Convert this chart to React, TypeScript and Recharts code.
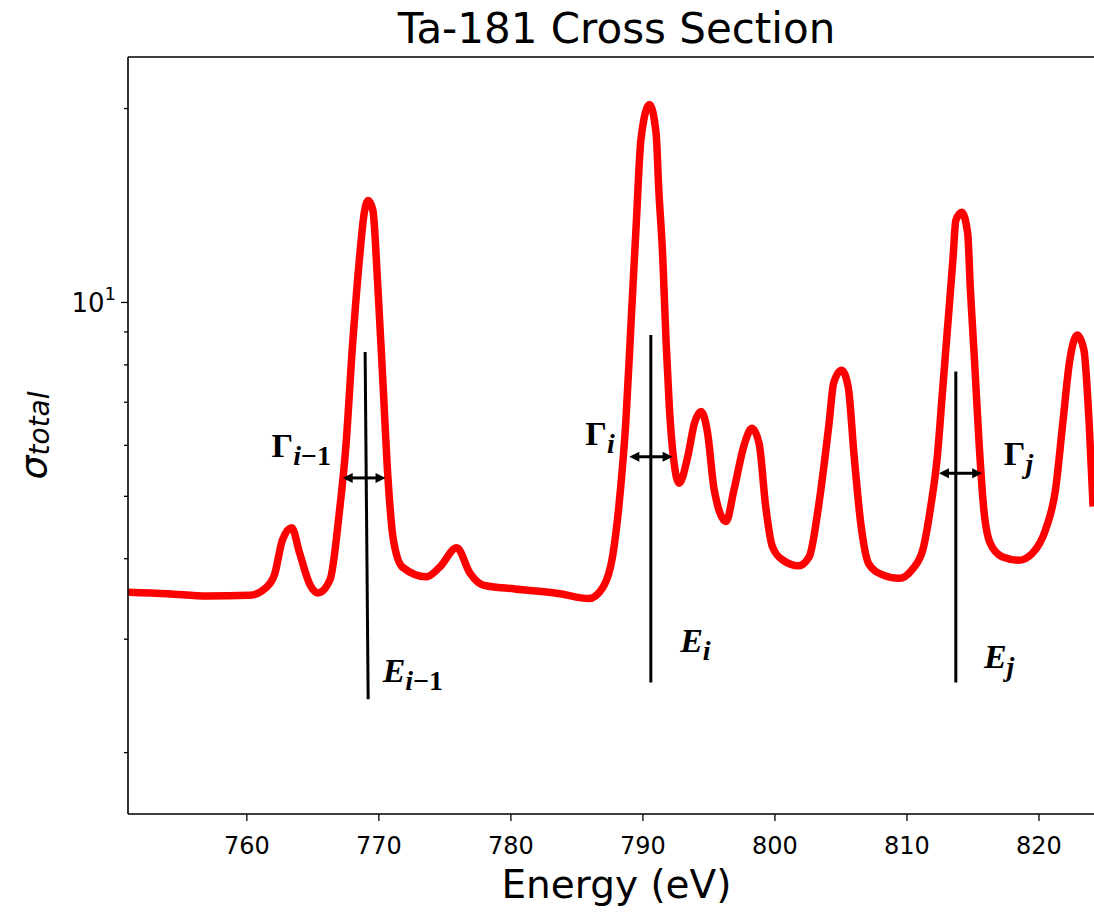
import React from "react";
import {
  LineChart,
  Line,
  XAxis,
  YAxis,
  ReferenceLine,
  ReferenceDot,
} from "recharts";

// cross section (energy in eV, sigma on a log axis)
const energy = [
  751.0, 754.0, 757.0, 760.2, 761.4, 762.1, 762.7, 763.4, 764.0, 764.8, 765.4,
  766.3, 767.0, 767.5, 768.0, 768.5, 768.9, 769.2, 769.55, 769.9, 770.3, 770.7,
  771.1, 771.8, 773.6, 774.6, 775.9, 776.9, 777.9, 780.3, 783.7, 785.9, 787.0,
  787.7, 788.3, 788.7, 789.1, 789.5, 789.85, 790.5, 791.0, 791.2, 791.5, 791.75,
  792.0, 792.4, 792.75, 793.4, 793.9, 794.4, 794.9, 795.4, 796.3, 796.9, 797.7,
  798.25, 798.8, 799.3, 799.8, 800.6, 801.8, 802.6, 803.3, 804.1, 804.45, 805.05,
  805.55, 806.0, 806.5, 807.1, 808.1, 809.4, 810.4, 811.2, 811.8, 812.3, 812.7,
  813.1, 813.5, 813.7, 814.15, 814.6, 814.8, 815.1, 815.45, 815.8, 816.3, 817.2,
  818.5, 819.5, 820.5, 821.25, 821.8, 822.3, 822.9, 823.4, 823.8, 824.1,
];
const sigma = [
  3.55, 3.53, 3.5, 3.51, 3.6, 3.78, 4.28, 4.47, 4.08, 3.64, 3.54,
  3.71, 4.71, 5.97, 8.54, 11.5, 13.8, 14.4, 13.9, 10.8, 7.58, 5.3,
  4.28, 3.88, 3.75, 3.88, 4.16, 3.8, 3.64, 3.59, 3.53, 3.47, 3.62,
  4.03, 5.12, 6.49, 9.28, 13.3, 17.9, 20.3, 18.3, 15.0, 11.8, 8.74,
  6.89, 5.56, 5.24, 5.77, 6.49, 6.77, 6.27, 5.12, 4.57, 5.12, 6.04,
  6.38, 6.04, 4.82, 4.18, 3.98, 3.9, 4.03, 4.82, 6.49, 7.5, 7.85,
  7.39, 5.77, 4.54, 3.93, 3.78, 3.73, 3.85, 4.13, 4.82, 5.77, 7.31,
  9.28, 11.8, 13.4, 13.8, 12.8, 10.5, 8.24, 6.11, 4.82, 4.23, 4.03,
  3.98, 4.08, 4.44, 5.12, 6.49, 8.05, 8.9, 8.44, 6.49, 4.82,
];

const xDomain = [751, 825];
const yDomain = [1.606, 24.05];
const xTicks = [760, 770, 780, 790, 800, 810, 820];
const yTicks = [2, 3, 4, 5, 6, 7, 8, 9, 10, 20];

// resonance annotations
const resonanceNames = ["i\u22121", "i", "j"];
const markerTopE = [768.96, 790.6, 813.7];
const markerBottomE = [769.19, 790.6, 813.7];
const markerTopSigma = [8.38, 8.9, 7.81];
const markerBottomSigma = [2.42, 2.57, 2.57];
const widthLeftE = [767.26, 788.97, 812.42];
const widthRightE = [770.51, 792.25, 815.7];
const widthSigma = [5.34, 5.76, 5.43];
const gammaLabelE = [761.87, 785.64, 817.34];
const gammaLabelSigma = [5.76, 6.01, 5.59];
const energyLabelE = [770.29, 792.82, 815.83];
const energyLabelSigma = [2.57, 2.87, 2.71];

const data = energy.map((e, i) => ({ E: e, sigma: sigma[i] }));

const SANS = "DejaVu Sans";
const SERIF = "Liberation Serif";

const XTick = (props: any) => {
  const { x, y, payload } = props;
  return (
    <g>
      <line x1={x} x2={x} y1={y} y2={y + 7} stroke="#000" strokeWidth={1.3} />
      <text x={x} y={y + 40} textAnchor="middle" fontFamily={SANS} fontSize={24} fill="#000">
        {payload.value}
      </text>
    </g>
  );
};

const YTick = (props: any) => {
  const { x, y, payload } = props;
  const major = payload.value === 10;
  return (
    <g>
      <line x1={x} x2={x - (major ? 7 : 4)} y1={y} y2={y} stroke="#000" strokeWidth={1.3} />
      {major && (
        <text x={x - 12} y={y + 10} textAnchor="end" fontFamily={SANS} fontSize={26} fill="#000">
          10
          <tspan dy={-12} fontSize={18}>
            1
          </tspan>
        </text>
      )}
    </g>
  );
};

const Arrow = (props: any) => {
  const { x1, y1, x2, y2 } = props;
  const h = 10;
  const w = 5;
  return (
    <g>
      <line x1={x1 + h - 2} y1={y1} x2={x2 - h + 2} y2={y2} stroke="#000" strokeWidth={3} />
      <polygon points={`${x1},${y1} ${x1 + h},${y1 - w} ${x1 + h},${y1 + w}`} fill="#000" />
      <polygon points={`${x2},${y2} ${x2 - h},${y2 - w} ${x2 - h},${y2 + w}`} fill="#000" />
    </g>
  );
};

const Sub = ({ s }: { s: string }) => (
  <tspan fontSize={28} dy={8}>
    <tspan fontStyle="italic">{s.charAt(0)}</tspan>
    {s.slice(1)}
  </tspan>
);

const gammaLabel = (name: string) => (props: any) =>
  (
    <text x={props.cx} y={props.cy} fontFamily={SERIF} fontWeight="bold" fontSize={34} fill="#000">
      {"\u0393"}
      <Sub s={name} />
    </text>
  );

const energyLabel = (name: string) => (props: any) =>
  (
    <text x={props.cx} y={props.cy} fontFamily={SERIF} fontWeight="bold" fontSize={34} fill="#000">
      <tspan fontStyle="italic">E</tspan>
      <Sub s={name} />
    </text>
  );

const Title = (props: any) => (
  <text x={props.cx} y={props.cy - 14} textAnchor="middle" fontFamily={SANS} fontSize={42} fill="#000">
    Ta-181 Cross Section
  </text>
);

const XLabel = (props: any) => {
  const vb = props.viewBox ?? { x: 128, y: 814, width: 977 };
  return (
    <text x={vb.x + vb.width / 2} y={vb.y + 84} textAnchor="middle" fontFamily={SANS} fontSize={39} fill="#000">
      Energy (eV)
    </text>
  );
};

const YLabel = (props: any) => {
  const vb = props.viewBox ?? { y: 57, height: 757 };
  const cy = vb.y + vb.height / 2;
  return (
    <text
      transform={`translate(46,${cy}) rotate(-90)`}
      textAnchor="middle"
      fontFamily={SANS}
      fontStyle="italic"
      fill="#000"
    >
      <tspan fontSize={38}>{"\u03c3"}</tspan>
      <tspan fontSize={28} dy={3}>
        total
      </tspan>
    </text>
  );
};

export default function App() {
  return (
    <div
      style={{
        position: "absolute",
        left: 0,
        top: 0,
        width: 1094,
        height: 914,
        overflow: "hidden",
        background: "#fff",
      }}
    >
      <LineChart width={1110} height={914} data={data} margin={{ top: 57, right: 5, bottom: 0, left: 0 }}>
        <XAxis
          dataKey="E"
          type="number"
          domain={xDomain}
          allowDataOverflow
          ticks={xTicks}
          interval={0}
          height={100}
          tickSize={0}
          tickMargin={0}
          tickLine={false}
          tick={<XTick />}
          axisLine={{ stroke: "#000", strokeWidth: 1.6 }}
          label={<XLabel />}
        />
        <YAxis
          scale="log"
          type="number"
          domain={yDomain}
          allowDataOverflow
          ticks={yTicks}
          interval={0}
          width={128}
          tickSize={0}
          tickMargin={0}
          tickLine={false}
          tick={<YTick />}
          axisLine={{ stroke: "#000", strokeWidth: 1.6 }}
          label={<YLabel />}
        />
        {/* top spine */}
        <ReferenceLine y={yDomain[1]} stroke="#000" strokeWidth={1.6} />
        <ReferenceDot
          x={(xDomain[0] + xDomain[1]) / 2}
          y={yDomain[1]}
          r={0}
          shape={Title}
        />
        <Line
          dataKey="sigma"
          type="monotone"
          stroke="#ff0000"
          strokeWidth={7.5}
          strokeLinejoin="round"
          dot={false}
          activeDot={false}
          isAnimationActive={false}
        />
        {resonanceNames.map((name, i) => (
          <ReferenceLine
            key={`m${i}`}
            segment={[
              { x: markerTopE[i], y: markerTopSigma[i] },
              { x: markerBottomE[i], y: markerBottomSigma[i] },
            ]}
            stroke="#000"
            strokeWidth={3}
          />
        ))}
        {resonanceNames.map((name, i) => (
          <ReferenceLine
            key={`w${i}`}
            segment={[
              { x: widthLeftE[i], y: widthSigma[i] },
              { x: widthRightE[i], y: widthSigma[i] },
            ]}
            shape={Arrow}
          />
        ))}
        {resonanceNames.map((name, i) => (
          <ReferenceDot key={`g${i}`} x={gammaLabelE[i]} y={gammaLabelSigma[i]} r={0} shape={gammaLabel(name)} />
        ))}
        {resonanceNames.map((name, i) => (
          <ReferenceDot key={`e${i}`} x={energyLabelE[i]} y={energyLabelSigma[i]} r={0} shape={energyLabel(name)} />
        ))}
      </LineChart>
    </div>
  );
}
